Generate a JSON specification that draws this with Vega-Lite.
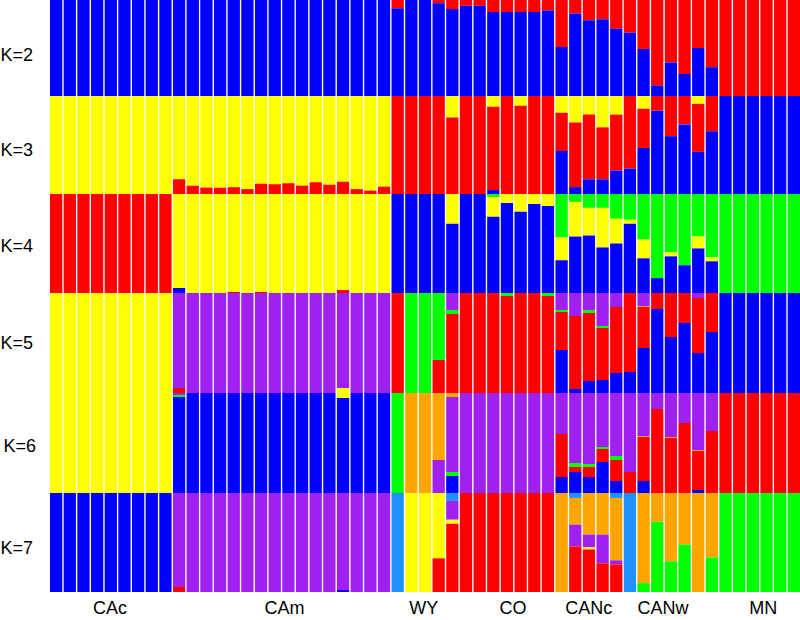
{
"$schema": "https://vega.github.io/schema/vega-lite/v6.json",
"background": "white",
"padding": 0,
"spacing": 0,
"config": {"view": {"stroke": null}, "concat": {"spacing": 0}},
"data": {"values": [
{"k":2,"i":0,"c":"b","q":1,"s":1},{"k":2,"i":1,"c":"b","q":1,"s":1},{"k":2,"i":2,"c":"b","q":1,"s":1},{"k":2,"i":3,"c":"b","q":1,"s":1},{"k":2,"i":4,"c":"b","q":1,"s":1},{"k":2,"i":5,"c":"b","q":1,"s":1},{"k":2,"i":6,"c":"b","q":1,"s":1},{"k":2,"i":7,"c":"b","q":1,"s":1},{"k":2,"i":8,"c":"b","q":1,"s":1},{"k":2,"i":9,"c":"b","q":1,"s":1},{"k":2,"i":10,"c":"b","q":1,"s":1},{"k":2,"i":11,"c":"b","q":1,"s":1},{"k":2,"i":12,"c":"b","q":1,"s":1},{"k":2,"i":13,"c":"b","q":1,"s":1},{"k":2,"i":14,"c":"b","q":1,"s":1},{"k":2,"i":15,"c":"b","q":1,"s":1},{"k":2,"i":16,"c":"b","q":1,"s":1},{"k":2,"i":17,"c":"b","q":1,"s":1},{"k":2,"i":18,"c":"b","q":1,"s":1},{"k":2,"i":19,"c":"b","q":1,"s":1},{"k":2,"i":20,"c":"b","q":1,"s":1},{"k":2,"i":21,"c":"b","q":1,"s":1},{"k":2,"i":22,"c":"b","q":1,"s":1},{"k":2,"i":23,"c":"b","q":1,"s":1},{"k":2,"i":24,"c":"b","q":1,"s":1},
{"k":2,"i":25,"c":"r","q":0.085,"s":1},{"k":2,"i":25,"c":"b","q":0.915,"s":2},
{"k":2,"i":26,"c":"b","q":1,"s":1},{"k":2,"i":27,"c":"b","q":1,"s":1},
{"k":2,"i":28,"c":"r","q":0.035,"s":1},{"k":2,"i":28,"c":"b","q":0.965,"s":2},
{"k":2,"i":29,"c":"r","q":0.095,"s":1},{"k":2,"i":29,"c":"b","q":0.905,"s":2},
{"k":2,"i":30,"c":"r","q":0.06,"s":1},{"k":2,"i":30,"c":"b","q":0.94,"s":2},
{"k":2,"i":31,"c":"r","q":0.06,"s":1},{"k":2,"i":31,"c":"b","q":0.94,"s":2},
{"k":2,"i":32,"c":"r","q":0.125,"s":1},{"k":2,"i":32,"c":"b","q":0.875,"s":2},
{"k":2,"i":33,"c":"r","q":0.125,"s":1},{"k":2,"i":33,"c":"b","q":0.875,"s":2},
{"k":2,"i":34,"c":"r","q":0.125,"s":1},{"k":2,"i":34,"c":"b","q":0.875,"s":2},
{"k":2,"i":35,"c":"r","q":0.125,"s":1},{"k":2,"i":35,"c":"b","q":0.875,"s":2},
{"k":2,"i":36,"c":"r","q":0.11,"s":1},{"k":2,"i":36,"c":"b","q":0.89,"s":2},
{"k":2,"i":37,"c":"r","q":0.49,"s":1},{"k":2,"i":37,"c":"b","q":0.51,"s":2},
{"k":2,"i":38,"c":"r","q":0.14,"s":1},{"k":2,"i":38,"c":"b","q":0.86,"s":2},
{"k":2,"i":39,"c":"r","q":0.21,"s":1},{"k":2,"i":39,"c":"b","q":0.79,"s":2},
{"k":2,"i":40,"c":"r","q":0.2,"s":1},{"k":2,"i":40,"c":"b","q":0.8,"s":2},
{"k":2,"i":41,"c":"r","q":0.3,"s":1},{"k":2,"i":41,"c":"b","q":0.7,"s":2},
{"k":2,"i":42,"c":"r","q":0.34,"s":1},{"k":2,"i":42,"c":"b","q":0.66,"s":2},
{"k":2,"i":43,"c":"r","q":0.51,"s":1},{"k":2,"i":43,"c":"b","q":0.49,"s":2},
{"k":2,"i":44,"c":"r","q":0.89,"s":1},{"k":2,"i":44,"c":"b","q":0.11,"s":2},
{"k":2,"i":45,"c":"r","q":0.65,"s":1},{"k":2,"i":45,"c":"b","q":0.35,"s":2},
{"k":2,"i":46,"c":"r","q":0.77,"s":1},{"k":2,"i":46,"c":"b","q":0.23,"s":2},
{"k":2,"i":47,"c":"r","q":0.5,"s":1},{"k":2,"i":47,"c":"b","q":0.5,"s":2},
{"k":2,"i":48,"c":"r","q":0.7,"s":1},{"k":2,"i":48,"c":"b","q":0.3,"s":2},
{"k":2,"i":49,"c":"r","q":1,"s":1},{"k":2,"i":50,"c":"r","q":1,"s":1},{"k":2,"i":51,"c":"r","q":1,"s":1},{"k":2,"i":52,"c":"r","q":1,"s":1},{"k":2,"i":53,"c":"r","q":1,"s":1},{"k":2,"i":54,"c":"r","q":1,"s":1},

{"k":3,"i":0,"c":"y","q":1,"s":1},{"k":3,"i":1,"c":"y","q":1,"s":1},{"k":3,"i":2,"c":"y","q":1,"s":1},{"k":3,"i":3,"c":"y","q":1,"s":1},{"k":3,"i":4,"c":"y","q":1,"s":1},{"k":3,"i":5,"c":"y","q":1,"s":1},{"k":3,"i":6,"c":"y","q":1,"s":1},{"k":3,"i":7,"c":"y","q":1,"s":1},{"k":3,"i":8,"c":"y","q":1,"s":1},
{"k":3,"i":9,"c":"y","q":0.85,"s":1},{"k":3,"i":9,"c":"r","q":0.15,"s":2},
{"k":3,"i":10,"c":"y","q":0.915,"s":1},{"k":3,"i":10,"c":"r","q":0.085,"s":2},
{"k":3,"i":11,"c":"y","q":0.935,"s":1},{"k":3,"i":11,"c":"r","q":0.065,"s":2},
{"k":3,"i":12,"c":"y","q":0.935,"s":1},{"k":3,"i":12,"c":"r","q":0.065,"s":2},
{"k":3,"i":13,"c":"y","q":0.93,"s":1},{"k":3,"i":13,"c":"r","q":0.07,"s":2},
{"k":3,"i":14,"c":"y","q":0.95,"s":1},{"k":3,"i":14,"c":"r","q":0.05,"s":2},
{"k":3,"i":15,"c":"y","q":0.895,"s":1},{"k":3,"i":15,"c":"r","q":0.105,"s":2},
{"k":3,"i":16,"c":"y","q":0.9,"s":1},{"k":3,"i":16,"c":"r","q":0.1,"s":2},
{"k":3,"i":17,"c":"y","q":0.89,"s":1},{"k":3,"i":17,"c":"r","q":0.11,"s":2},
{"k":3,"i":18,"c":"y","q":0.915,"s":1},{"k":3,"i":18,"c":"r","q":0.085,"s":2},
{"k":3,"i":19,"c":"y","q":0.88,"s":1},{"k":3,"i":19,"c":"r","q":0.12,"s":2},
{"k":3,"i":20,"c":"y","q":0.905,"s":1},{"k":3,"i":20,"c":"r","q":0.095,"s":2},
{"k":3,"i":21,"c":"y","q":0.875,"s":1},{"k":3,"i":21,"c":"r","q":0.125,"s":2},
{"k":3,"i":22,"c":"y","q":0.95,"s":1},{"k":3,"i":22,"c":"r","q":0.05,"s":2},
{"k":3,"i":23,"c":"y","q":0.965,"s":1},{"k":3,"i":23,"c":"r","q":0.035,"s":2},
{"k":3,"i":24,"c":"y","q":0.925,"s":1},{"k":3,"i":24,"c":"r","q":0.075,"s":2},
{"k":3,"i":25,"c":"r","q":1,"s":1},{"k":3,"i":26,"c":"r","q":1,"s":1},{"k":3,"i":27,"c":"r","q":1,"s":1},{"k":3,"i":28,"c":"r","q":1,"s":1},
{"k":3,"i":29,"c":"y","q":0.22,"s":1},{"k":3,"i":29,"c":"r","q":0.78,"s":2},
{"k":3,"i":30,"c":"r","q":1,"s":1},{"k":3,"i":31,"c":"r","q":1,"s":1},
{"k":3,"i":32,"c":"y","q":0.11,"s":1},{"k":3,"i":32,"c":"r","q":0.85,"s":2},{"k":3,"i":32,"c":"b","q":0.04,"s":3},
{"k":3,"i":33,"c":"r","q":1,"s":1},
{"k":3,"i":34,"c":"y","q":0.1,"s":1},{"k":3,"i":34,"c":"r","q":0.9,"s":2},
{"k":3,"i":35,"c":"r","q":1,"s":1},{"k":3,"i":36,"c":"r","q":1,"s":1},
{"k":3,"i":37,"c":"y","q":0.17,"s":1},{"k":3,"i":37,"c":"r","q":0.39,"s":2},{"k":3,"i":37,"c":"b","q":0.44,"s":3},
{"k":3,"i":38,"c":"y","q":0.27,"s":1},{"k":3,"i":38,"c":"r","q":0.66,"s":2},{"k":3,"i":38,"c":"b","q":0.07,"s":3},
{"k":3,"i":39,"c":"y","q":0.19,"s":1},{"k":3,"i":39,"c":"r","q":0.66,"s":2},{"k":3,"i":39,"c":"b","q":0.15,"s":3},
{"k":3,"i":40,"c":"y","q":0.32,"s":1},{"k":3,"i":40,"c":"r","q":0.53,"s":2},{"k":3,"i":40,"c":"b","q":0.15,"s":3},
{"k":3,"i":41,"c":"y","q":0.19,"s":1},{"k":3,"i":41,"c":"r","q":0.57,"s":2},{"k":3,"i":41,"c":"b","q":0.24,"s":3},
{"k":3,"i":42,"c":"r","q":0.74,"s":1},{"k":3,"i":42,"c":"b","q":0.26,"s":2},
{"k":3,"i":43,"c":"y","q":0.13,"s":1},{"k":3,"i":43,"c":"r","q":0.4,"s":2},{"k":3,"i":43,"c":"b","q":0.47,"s":3},
{"k":3,"i":44,"c":"r","q":0.15,"s":1},{"k":3,"i":44,"c":"b","q":0.85,"s":2},
{"k":3,"i":45,"c":"r","q":0.41,"s":1},{"k":3,"i":45,"c":"b","q":0.59,"s":2},
{"k":3,"i":46,"c":"r","q":0.29,"s":1},{"k":3,"i":46,"c":"b","q":0.71,"s":2},
{"k":3,"i":47,"c":"y","q":0.08,"s":1},{"k":3,"i":47,"c":"r","q":0.49,"s":2},{"k":3,"i":47,"c":"b","q":0.43,"s":3},
{"k":3,"i":48,"c":"r","q":0.36,"s":1},{"k":3,"i":48,"c":"b","q":0.64,"s":2},
{"k":3,"i":49,"c":"b","q":1,"s":1},{"k":3,"i":50,"c":"b","q":1,"s":1},{"k":3,"i":51,"c":"b","q":1,"s":1},{"k":3,"i":52,"c":"b","q":1,"s":1},{"k":3,"i":53,"c":"b","q":1,"s":1},{"k":3,"i":54,"c":"b","q":1,"s":1},

{"k":4,"i":0,"c":"r","q":1,"s":1},{"k":4,"i":1,"c":"r","q":1,"s":1},{"k":4,"i":2,"c":"r","q":1,"s":1},{"k":4,"i":3,"c":"r","q":1,"s":1},{"k":4,"i":4,"c":"r","q":1,"s":1},{"k":4,"i":5,"c":"r","q":1,"s":1},{"k":4,"i":6,"c":"r","q":1,"s":1},{"k":4,"i":7,"c":"r","q":1,"s":1},{"k":4,"i":8,"c":"r","q":1,"s":1},
{"k":4,"i":9,"c":"y","q":0.95,"s":1},{"k":4,"i":9,"c":"b","q":0.05,"s":2},
{"k":4,"i":10,"c":"y","q":1,"s":1},{"k":4,"i":11,"c":"y","q":1,"s":1},{"k":4,"i":12,"c":"y","q":1,"s":1},
{"k":4,"i":13,"c":"y","q":0.99,"s":1},{"k":4,"i":13,"c":"r","q":0.01,"s":2},
{"k":4,"i":14,"c":"y","q":1,"s":1},
{"k":4,"i":15,"c":"y","q":0.99,"s":1},{"k":4,"i":15,"c":"r","q":0.01,"s":2},
{"k":4,"i":16,"c":"y","q":1,"s":1},{"k":4,"i":17,"c":"y","q":1,"s":1},{"k":4,"i":18,"c":"y","q":1,"s":1},{"k":4,"i":19,"c":"y","q":1,"s":1},{"k":4,"i":20,"c":"y","q":1,"s":1},
{"k":4,"i":21,"c":"y","q":0.97,"s":1},{"k":4,"i":21,"c":"r","q":0.03,"s":2},
{"k":4,"i":22,"c":"y","q":1,"s":1},{"k":4,"i":23,"c":"y","q":1,"s":1},{"k":4,"i":24,"c":"y","q":1,"s":1},
{"k":4,"i":25,"c":"b","q":1,"s":1},{"k":4,"i":26,"c":"b","q":1,"s":1},{"k":4,"i":27,"c":"b","q":1,"s":1},{"k":4,"i":28,"c":"b","q":1,"s":1},
{"k":4,"i":29,"c":"y","q":0.3,"s":1},{"k":4,"i":29,"c":"b","q":0.7,"s":2},
{"k":4,"i":30,"c":"b","q":1,"s":1},{"k":4,"i":31,"c":"b","q":1,"s":1},
{"k":4,"i":32,"c":"g","q":0.03,"s":1},{"k":4,"i":32,"c":"y","q":0.2,"s":2},{"k":4,"i":32,"c":"b","q":0.77,"s":3},
{"k":4,"i":33,"c":"y","q":0.09,"s":1},{"k":4,"i":33,"c":"b","q":0.91,"s":2},
{"k":4,"i":34,"c":"y","q":0.18,"s":1},{"k":4,"i":34,"c":"b","q":0.82,"s":2},
{"k":4,"i":35,"c":"y","q":0.1,"s":1},{"k":4,"i":35,"c":"b","q":0.9,"s":2},
{"k":4,"i":36,"c":"y","q":0.12,"s":1},{"k":4,"i":36,"c":"b","q":0.88,"s":2},
{"k":4,"i":37,"c":"g","q":0.44,"s":1},{"k":4,"i":37,"c":"y","q":0.23,"s":2},{"k":4,"i":37,"c":"b","q":0.33,"s":3},
{"k":4,"i":38,"c":"g","q":0.08,"s":1},{"k":4,"i":38,"c":"y","q":0.35,"s":2},{"k":4,"i":38,"c":"b","q":0.57,"s":3},
{"k":4,"i":39,"c":"g","q":0.14,"s":1},{"k":4,"i":39,"c":"y","q":0.28,"s":2},{"k":4,"i":39,"c":"b","q":0.58,"s":3},
{"k":4,"i":40,"c":"g","q":0.14,"s":1},{"k":4,"i":40,"c":"y","q":0.4,"s":2},{"k":4,"i":40,"c":"b","q":0.46,"s":3},
{"k":4,"i":41,"c":"g","q":0.25,"s":1},{"k":4,"i":41,"c":"y","q":0.25,"s":2},{"k":4,"i":41,"c":"b","q":0.5,"s":3},
{"k":4,"i":42,"c":"g","q":0.26,"s":1},{"k":4,"i":42,"c":"y","q":0.04,"s":2},{"k":4,"i":42,"c":"b","q":0.7,"s":3},
{"k":4,"i":43,"c":"g","q":0.46,"s":1},{"k":4,"i":43,"c":"y","q":0.19,"s":2},{"k":4,"i":43,"c":"b","q":0.35,"s":3},
{"k":4,"i":44,"c":"g","q":0.85,"s":1},{"k":4,"i":44,"c":"b","q":0.15,"s":2},
{"k":4,"i":45,"c":"g","q":0.59,"s":1},{"k":4,"i":45,"c":"y","q":0.04,"s":2},{"k":4,"i":45,"c":"b","q":0.37,"s":3},
{"k":4,"i":46,"c":"g","q":0.72,"s":1},{"k":4,"i":46,"c":"b","q":0.28,"s":2},
{"k":4,"i":47,"c":"g","q":0.43,"s":1},{"k":4,"i":47,"c":"y","q":0.12,"s":2},{"k":4,"i":47,"c":"b","q":0.45,"s":3},
{"k":4,"i":48,"c":"g","q":0.64,"s":1},{"k":4,"i":48,"c":"y","q":0.04,"s":2},{"k":4,"i":48,"c":"b","q":0.32,"s":3},
{"k":4,"i":49,"c":"g","q":1,"s":1},{"k":4,"i":50,"c":"g","q":1,"s":1},{"k":4,"i":51,"c":"g","q":1,"s":1},{"k":4,"i":52,"c":"g","q":1,"s":1},{"k":4,"i":53,"c":"g","q":1,"s":1},{"k":4,"i":54,"c":"g","q":1,"s":1},

{"k":5,"i":0,"c":"y","q":1,"s":1},{"k":5,"i":1,"c":"y","q":1,"s":1},{"k":5,"i":2,"c":"y","q":1,"s":1},{"k":5,"i":3,"c":"y","q":1,"s":1},{"k":5,"i":4,"c":"y","q":1,"s":1},{"k":5,"i":5,"c":"y","q":1,"s":1},{"k":5,"i":6,"c":"y","q":1,"s":1},{"k":5,"i":7,"c":"y","q":1,"s":1},{"k":5,"i":8,"c":"y","q":1,"s":1},
{"k":5,"i":9,"c":"p","q":0.95,"s":1},{"k":5,"i":9,"c":"r","q":0.05,"s":2},
{"k":5,"i":10,"c":"p","q":1,"s":1},{"k":5,"i":11,"c":"p","q":1,"s":1},{"k":5,"i":12,"c":"p","q":1,"s":1},{"k":5,"i":13,"c":"p","q":1,"s":1},{"k":5,"i":14,"c":"p","q":1,"s":1},{"k":5,"i":15,"c":"p","q":1,"s":1},{"k":5,"i":16,"c":"p","q":1,"s":1},{"k":5,"i":17,"c":"p","q":1,"s":1},{"k":5,"i":18,"c":"p","q":1,"s":1},{"k":5,"i":19,"c":"p","q":1,"s":1},{"k":5,"i":20,"c":"p","q":1,"s":1},
{"k":5,"i":21,"c":"p","q":0.95,"s":1},{"k":5,"i":21,"c":"y","q":0.05,"s":2},
{"k":5,"i":22,"c":"p","q":1,"s":1},{"k":5,"i":23,"c":"p","q":1,"s":1},{"k":5,"i":24,"c":"p","q":1,"s":1},
{"k":5,"i":25,"c":"r","q":1,"s":1},
{"k":5,"i":26,"c":"g","q":1,"s":1},{"k":5,"i":27,"c":"g","q":1,"s":1},
{"k":5,"i":28,"c":"g","q":0.67,"s":1},{"k":5,"i":28,"c":"r","q":0.33,"s":2},
{"k":5,"i":29,"c":"p","q":0.17,"s":1},{"k":5,"i":29,"c":"g","q":0.04,"s":2},{"k":5,"i":29,"c":"r","q":0.79,"s":3},
{"k":5,"i":30,"c":"r","q":1,"s":1},{"k":5,"i":31,"c":"r","q":1,"s":1},{"k":5,"i":32,"c":"r","q":1,"s":1},
{"k":5,"i":33,"c":"g","q":0.03,"s":1},{"k":5,"i":33,"c":"r","q":0.97,"s":2},
{"k":5,"i":34,"c":"r","q":1,"s":1},{"k":5,"i":35,"c":"r","q":1,"s":1},
{"k":5,"i":36,"c":"g","q":0.03,"s":1},{"k":5,"i":36,"c":"r","q":0.97,"s":2},
{"k":5,"i":37,"c":"p","q":0.17,"s":1},{"k":5,"i":37,"c":"g","q":0.02,"s":2},{"k":5,"i":37,"c":"r","q":0.38,"s":3},{"k":5,"i":37,"c":"b","q":0.43,"s":4},
{"k":5,"i":38,"c":"p","q":0.23,"s":1},{"k":5,"i":38,"c":"r","q":0.73,"s":2},{"k":5,"i":38,"c":"b","q":0.04,"s":3},
{"k":5,"i":39,"c":"p","q":0.17,"s":1},{"k":5,"i":39,"c":"g","q":0.03,"s":2},{"k":5,"i":39,"c":"r","q":0.68,"s":3},{"k":5,"i":39,"c":"b","q":0.12,"s":4},
{"k":5,"i":40,"c":"p","q":0.33,"s":1},{"k":5,"i":40,"c":"g","q":0.02,"s":2},{"k":5,"i":40,"c":"r","q":0.52,"s":3},{"k":5,"i":40,"c":"b","q":0.13,"s":4},
{"k":5,"i":41,"c":"p","q":0.14,"s":1},{"k":5,"i":41,"c":"r","q":0.66,"s":2},{"k":5,"i":41,"c":"b","q":0.2,"s":3},
{"k":5,"i":42,"c":"r","q":0.79,"s":1},{"k":5,"i":42,"c":"b","q":0.21,"s":2},
{"k":5,"i":43,"c":"p","q":0.13,"s":1},{"k":5,"i":43,"c":"o","q":0.01,"s":2},{"k":5,"i":43,"c":"r","q":0.41,"s":3},{"k":5,"i":43,"c":"b","q":0.45,"s":4},
{"k":5,"i":44,"c":"r","q":0.16,"s":1},{"k":5,"i":44,"c":"b","q":0.84,"s":2},
{"k":5,"i":45,"c":"r","q":0.44,"s":1},{"k":5,"i":45,"c":"b","q":0.56,"s":2},
{"k":5,"i":46,"c":"r","q":0.3,"s":1},{"k":5,"i":46,"c":"b","q":0.7,"s":2},
{"k":5,"i":47,"c":"p","q":0.05,"s":1},{"k":5,"i":47,"c":"r","q":0.55,"s":2},{"k":5,"i":47,"c":"b","q":0.4,"s":3},
{"k":5,"i":48,"c":"r","q":0.39,"s":1},{"k":5,"i":48,"c":"b","q":0.61,"s":2},
{"k":5,"i":49,"c":"b","q":1,"s":1},{"k":5,"i":50,"c":"b","q":1,"s":1},{"k":5,"i":51,"c":"b","q":1,"s":1},{"k":5,"i":52,"c":"b","q":1,"s":1},{"k":5,"i":53,"c":"b","q":1,"s":1},{"k":5,"i":54,"c":"b","q":1,"s":1},

{"k":6,"i":0,"c":"y","q":1,"s":1},{"k":6,"i":1,"c":"y","q":1,"s":1},{"k":6,"i":2,"c":"y","q":1,"s":1},{"k":6,"i":3,"c":"y","q":1,"s":1},{"k":6,"i":4,"c":"y","q":1,"s":1},{"k":6,"i":5,"c":"y","q":1,"s":1},{"k":6,"i":6,"c":"y","q":1,"s":1},{"k":6,"i":7,"c":"y","q":1,"s":1},{"k":6,"i":8,"c":"y","q":1,"s":1},
{"k":6,"i":9,"c":"p","q":0.02,"s":1},{"k":6,"i":9,"c":"g","q":0.02,"s":2},{"k":6,"i":9,"c":"b","q":0.96,"s":3},
{"k":6,"i":10,"c":"b","q":1,"s":1},{"k":6,"i":11,"c":"b","q":1,"s":1},{"k":6,"i":12,"c":"b","q":1,"s":1},{"k":6,"i":13,"c":"b","q":1,"s":1},{"k":6,"i":14,"c":"b","q":1,"s":1},{"k":6,"i":15,"c":"b","q":1,"s":1},{"k":6,"i":16,"c":"b","q":1,"s":1},{"k":6,"i":17,"c":"b","q":1,"s":1},{"k":6,"i":18,"c":"b","q":1,"s":1},{"k":6,"i":19,"c":"b","q":1,"s":1},{"k":6,"i":20,"c":"b","q":1,"s":1},
{"k":6,"i":21,"c":"y","q":0.05,"s":1},{"k":6,"i":21,"c":"b","q":0.95,"s":2},
{"k":6,"i":22,"c":"b","q":1,"s":1},{"k":6,"i":23,"c":"b","q":1,"s":1},{"k":6,"i":24,"c":"b","q":1,"s":1},
{"k":6,"i":25,"c":"g","q":1,"s":1},
{"k":6,"i":26,"c":"o","q":1,"s":1},{"k":6,"i":27,"c":"o","q":1,"s":1},
{"k":6,"i":28,"c":"o","q":0.67,"s":1},{"k":6,"i":28,"c":"p","q":0.33,"s":2},
{"k":6,"i":29,"c":"o","q":0.04,"s":1},{"k":6,"i":29,"c":"p","q":0.75,"s":2},{"k":6,"i":29,"c":"g","q":0.04,"s":3},{"k":6,"i":29,"c":"b","q":0.17,"s":4},
{"k":6,"i":30,"c":"p","q":1,"s":1},{"k":6,"i":31,"c":"p","q":1,"s":1},{"k":6,"i":32,"c":"p","q":1,"s":1},{"k":6,"i":33,"c":"p","q":1,"s":1},{"k":6,"i":34,"c":"p","q":1,"s":1},{"k":6,"i":35,"c":"p","q":1,"s":1},{"k":6,"i":36,"c":"p","q":1,"s":1},
{"k":6,"i":37,"c":"p","q":0.41,"s":1},{"k":6,"i":37,"c":"r","q":0.43,"s":2},{"k":6,"i":37,"c":"b","q":0.16,"s":3},
{"k":6,"i":38,"c":"p","q":0.7,"s":1},{"k":6,"i":38,"c":"g","q":0.04,"s":2},{"k":6,"i":38,"c":"r","q":0.05,"s":3},{"k":6,"i":38,"c":"b","q":0.21,"s":4},
{"k":6,"i":39,"c":"p","q":0.71,"s":1},{"k":6,"i":39,"c":"g","q":0.03,"s":2},{"k":6,"i":39,"c":"r","q":0.1,"s":3},{"k":6,"i":39,"c":"b","q":0.16,"s":4},
{"k":6,"i":40,"c":"p","q":0.54,"s":1},{"k":6,"i":40,"c":"g","q":0.02,"s":2},{"k":6,"i":40,"c":"r","q":0.13,"s":3},{"k":6,"i":40,"c":"b","q":0.31,"s":4},
{"k":6,"i":41,"c":"p","q":0.63,"s":1},{"k":6,"i":41,"c":"g","q":0.04,"s":2},{"k":6,"i":41,"c":"r","q":0.21,"s":3},{"k":6,"i":41,"c":"b","q":0.12,"s":4},
{"k":6,"i":42,"c":"p","q":0.79,"s":1},{"k":6,"i":42,"c":"r","q":0.21,"s":2},
{"k":6,"i":43,"c":"p","q":0.43,"s":1},{"k":6,"i":43,"c":"o","q":0.01,"s":2},{"k":6,"i":43,"c":"r","q":0.44,"s":3},{"k":6,"i":43,"c":"b","q":0.12,"s":4},
{"k":6,"i":44,"c":"p","q":0.16,"s":1},{"k":6,"i":44,"c":"r","q":0.84,"s":2},
{"k":6,"i":45,"c":"p","q":0.44,"s":1},{"k":6,"i":45,"c":"o","q":0.01,"s":2},{"k":6,"i":45,"c":"r","q":0.55,"s":3},
{"k":6,"i":46,"c":"p","q":0.3,"s":1},{"k":6,"i":46,"c":"r","q":0.7,"s":2},
{"k":6,"i":47,"c":"p","q":0.57,"s":1},{"k":6,"i":47,"c":"o","q":0.01,"s":2},{"k":6,"i":47,"c":"r","q":0.39,"s":3},{"k":6,"i":47,"c":"b","q":0.03,"s":4},
{"k":6,"i":48,"c":"p","q":0.38,"s":1},{"k":6,"i":48,"c":"r","q":0.62,"s":2},
{"k":6,"i":49,"c":"r","q":1,"s":1},{"k":6,"i":50,"c":"r","q":1,"s":1},{"k":6,"i":51,"c":"r","q":1,"s":1},{"k":6,"i":52,"c":"r","q":1,"s":1},{"k":6,"i":53,"c":"r","q":1,"s":1},{"k":6,"i":54,"c":"r","q":1,"s":1},

{"k":7,"i":0,"c":"b","q":1,"s":1},{"k":7,"i":1,"c":"b","q":1,"s":1},{"k":7,"i":2,"c":"b","q":1,"s":1},{"k":7,"i":3,"c":"b","q":1,"s":1},{"k":7,"i":4,"c":"b","q":1,"s":1},{"k":7,"i":5,"c":"b","q":1,"s":1},{"k":7,"i":6,"c":"b","q":1,"s":1},{"k":7,"i":7,"c":"b","q":1,"s":1},{"k":7,"i":8,"c":"b","q":1,"s":1},
{"k":7,"i":9,"c":"p","q":0.95,"s":1},{"k":7,"i":9,"c":"r","q":0.05,"s":2},
{"k":7,"i":10,"c":"p","q":1,"s":1},{"k":7,"i":11,"c":"p","q":1,"s":1},{"k":7,"i":12,"c":"p","q":1,"s":1},{"k":7,"i":13,"c":"p","q":1,"s":1},{"k":7,"i":14,"c":"p","q":1,"s":1},{"k":7,"i":15,"c":"p","q":1,"s":1},{"k":7,"i":16,"c":"p","q":1,"s":1},{"k":7,"i":17,"c":"p","q":1,"s":1},{"k":7,"i":18,"c":"p","q":1,"s":1},{"k":7,"i":19,"c":"p","q":1,"s":1},{"k":7,"i":20,"c":"p","q":1,"s":1},
{"k":7,"i":21,"c":"p","q":0.98,"s":1},{"k":7,"i":21,"c":"b","q":0.02,"s":2},
{"k":7,"i":22,"c":"p","q":1,"s":1},{"k":7,"i":23,"c":"p","q":1,"s":1},{"k":7,"i":24,"c":"p","q":1,"s":1},
{"k":7,"i":25,"c":"d","q":1,"s":1},
{"k":7,"i":26,"c":"y","q":1,"s":1},{"k":7,"i":27,"c":"y","q":1,"s":1},
{"k":7,"i":28,"c":"y","q":0.66,"s":1},{"k":7,"i":28,"c":"r","q":0.34,"s":2},
{"k":7,"i":29,"c":"d","q":0.08,"s":1},{"k":7,"i":29,"c":"p","q":0.19,"s":2},{"k":7,"i":29,"c":"y","q":0.04,"s":3},{"k":7,"i":29,"c":"r","q":0.69,"s":4},
{"k":7,"i":30,"c":"r","q":1,"s":1},{"k":7,"i":31,"c":"r","q":1,"s":1},{"k":7,"i":32,"c":"r","q":1,"s":1},{"k":7,"i":33,"c":"r","q":1,"s":1},{"k":7,"i":34,"c":"r","q":1,"s":1},{"k":7,"i":35,"c":"r","q":1,"s":1},{"k":7,"i":36,"c":"r","q":1,"s":1},
{"k":7,"i":37,"c":"o","q":1,"s":1},
{"k":7,"i":38,"c":"d","q":0.05,"s":1},{"k":7,"i":38,"c":"o","q":0.27,"s":2},{"k":7,"i":38,"c":"p","q":0.22,"s":3},{"k":7,"i":38,"c":"r","q":0.46,"s":4},
{"k":7,"i":39,"c":"o","q":0.42,"s":1},{"k":7,"i":39,"c":"p","q":0.13,"s":2},{"k":7,"i":39,"c":"y","q":0.02,"s":3},{"k":7,"i":39,"c":"r","q":0.43,"s":4},
{"k":7,"i":40,"c":"o","q":0.42,"s":1},{"k":7,"i":40,"c":"p","q":0.29,"s":2},{"k":7,"i":40,"c":"r","q":0.29,"s":3},
{"k":7,"i":41,"c":"d","q":0.05,"s":1},{"k":7,"i":41,"c":"o","q":0.63,"s":2},{"k":7,"i":41,"c":"p","q":0.04,"s":3},{"k":7,"i":41,"c":"r","q":0.28,"s":4},
{"k":7,"i":42,"c":"d","q":1,"s":1},
{"k":7,"i":43,"c":"o","q":0.91,"s":1},{"k":7,"i":43,"c":"g","q":0.09,"s":2},
{"k":7,"i":44,"c":"o","q":0.29,"s":1},{"k":7,"i":44,"c":"g","q":0.71,"s":2},
{"k":7,"i":45,"c":"o","q":0.69,"s":1},{"k":7,"i":45,"c":"g","q":0.31,"s":2},
{"k":7,"i":46,"c":"o","q":0.52,"s":1},{"k":7,"i":46,"c":"g","q":0.48,"s":2},
{"k":7,"i":47,"c":"o","q":1,"s":1},
{"k":7,"i":48,"c":"o","q":0.65,"s":1},{"k":7,"i":48,"c":"g","q":0.35,"s":2},
{"k":7,"i":49,"c":"g","q":1,"s":1},{"k":7,"i":50,"c":"g","q":1,"s":1},{"k":7,"i":51,"c":"g","q":1,"s":1},{"k":7,"i":52,"c":"g","q":1,"s":1},{"k":7,"i":53,"c":"g","q":1,"s":1},{"k":7,"i":54,"c":"g","q":1,"s":1}
]},
"vconcat": [
{"width": 750, "height": 96, "transform": [{"filter": "datum.k == 2"}], "mark": {"type": "bar"},
 "encoding": {
  "x": {"field": "i", "type": "ordinal", "axis": null, "scale": {"paddingInner": 0.1, "paddingOuter": 0}},
  "y": {"field": "q", "type": "quantitative", "stack": "normalize", "scale": {"domain": [0, 1], "nice": false}, "axis": {"title": "K=2", "titleAngle": 0, "titleX": -50, "titleY": 55, "titleAlign": "left", "titleBaseline": "middle", "titleFont": "Liberation Sans", "titleFontSize": 18, "titleFontWeight": "normal", "titleColor": "black", "domain": false, "ticks": false, "labels": false, "grid": false}},
  "color": {"field": "c", "type": "nominal", "legend": null, "scale": {"domain": ["b","r","y","g","p","o","d"], "range": ["#0000FF","#FF0000","#FFFF00","#00FF00","#A020F0","#FFA500","#1E90FF"]}},
  "order": {"field": "s", "sort": "descending"}}},
{"width": 750, "height": 98, "transform": [{"filter": "datum.k == 3"}], "mark": {"type": "bar"},
 "encoding": {
  "x": {"field": "i", "type": "ordinal", "axis": null, "scale": {"paddingInner": 0.1, "paddingOuter": 0}},
  "y": {"field": "q", "type": "quantitative", "stack": "normalize", "scale": {"domain": [0, 1], "nice": false}, "axis": {"title": "K=3", "titleAngle": 0, "titleX": -50, "titleY": 54, "titleAlign": "left", "titleBaseline": "middle", "titleFont": "Liberation Sans", "titleFontSize": 18, "titleFontWeight": "normal", "titleColor": "black", "domain": false, "ticks": false, "labels": false, "grid": false}},
  "color": {"field": "c", "type": "nominal", "legend": null, "scale": {"domain": ["b","r","y","g","p","o","d"], "range": ["#0000FF","#FF0000","#FFFF00","#00FF00","#A020F0","#FFA500","#1E90FF"]}},
  "order": {"field": "s", "sort": "descending"}}},
{"width": 750, "height": 99, "transform": [{"filter": "datum.k == 4"}], "mark": {"type": "bar"},
 "encoding": {
  "x": {"field": "i", "type": "ordinal", "axis": null, "scale": {"paddingInner": 0.1, "paddingOuter": 0}},
  "y": {"field": "q", "type": "quantitative", "stack": "normalize", "scale": {"domain": [0, 1], "nice": false}, "axis": {"title": "K=4", "titleAngle": 0, "titleX": -50, "titleY": 52, "titleAlign": "left", "titleBaseline": "middle", "titleFont": "Liberation Sans", "titleFontSize": 18, "titleFontWeight": "normal", "titleColor": "black", "domain": false, "ticks": false, "labels": false, "grid": false}},
  "color": {"field": "c", "type": "nominal", "legend": null, "scale": {"domain": ["b","r","y","g","p","o","d"], "range": ["#0000FF","#FF0000","#FFFF00","#00FF00","#A020F0","#FFA500","#1E90FF"]}},
  "order": {"field": "s", "sort": "descending"}}},
{"width": 750, "height": 100, "transform": [{"filter": "datum.k == 5"}], "mark": {"type": "bar"},
 "encoding": {
  "x": {"field": "i", "type": "ordinal", "axis": null, "scale": {"paddingInner": 0.1, "paddingOuter": 0}},
  "y": {"field": "q", "type": "quantitative", "stack": "normalize", "scale": {"domain": [0, 1], "nice": false}, "axis": {"title": "K=5", "titleAngle": 0, "titleX": -50, "titleY": 50, "titleAlign": "left", "titleBaseline": "middle", "titleFont": "Liberation Sans", "titleFontSize": 18, "titleFontWeight": "normal", "titleColor": "black", "domain": false, "ticks": false, "labels": false, "grid": false}},
  "color": {"field": "c", "type": "nominal", "legend": null, "scale": {"domain": ["b","r","y","g","p","o","d"], "range": ["#0000FF","#FF0000","#FFFF00","#00FF00","#A020F0","#FFA500","#1E90FF"]}},
  "order": {"field": "s", "sort": "descending"}}},
{"width": 750, "height": 100, "transform": [{"filter": "datum.k == 6"}], "mark": {"type": "bar"},
 "encoding": {
  "x": {"field": "i", "type": "ordinal", "axis": null, "scale": {"paddingInner": 0.1, "paddingOuter": 0}},
  "y": {"field": "q", "type": "quantitative", "stack": "normalize", "scale": {"domain": [0, 1], "nice": false}, "axis": {"title": "K=6", "titleAngle": 0, "titleX": -47, "titleY": 53, "titleAlign": "left", "titleBaseline": "middle", "titleFont": "Liberation Sans", "titleFontSize": 18, "titleFontWeight": "normal", "titleColor": "black", "domain": false, "ticks": false, "labels": false, "grid": false}},
  "color": {"field": "c", "type": "nominal", "legend": null, "scale": {"domain": ["b","r","y","g","p","o","d"], "range": ["#0000FF","#FF0000","#FFFF00","#00FF00","#A020F0","#FFA500","#1E90FF"]}},
  "order": {"field": "s", "sort": "descending"}}},
{"width": 750, "height": 99, "transform": [{"filter": "datum.k == 7"}], "mark": {"type": "bar"},
 "encoding": {
  "x": {"field": "i", "type": "ordinal", "axis": null, "scale": {"paddingInner": 0.1, "paddingOuter": 0}},
  "y": {"field": "q", "type": "quantitative", "stack": "normalize", "scale": {"domain": [0, 1], "nice": false}, "axis": {"title": "K=7", "titleAngle": 0, "titleX": -50, "titleY": 55, "titleAlign": "left", "titleBaseline": "middle", "titleFont": "Liberation Sans", "titleFontSize": 18, "titleFontWeight": "normal", "titleColor": "black", "domain": false, "ticks": false, "labels": false, "grid": false}},
  "color": {"field": "c", "type": "nominal", "legend": null, "scale": {"domain": ["b","r","y","g","p","o","d"], "range": ["#0000FF","#FF0000","#FFFF00","#00FF00","#A020F0","#FFA500","#1E90FF"]}},
  "order": {"field": "s", "sort": "descending"}}},
{"width": 750, "height": 28,
 "data": {"values": [{"g":"CAc","pos":4.4},{"g":"CAm","pos":17.2},{"g":"WY","pos":27.4},{"g":"CO","pos":33.95},{"g":"CANc","pos":39.5},{"g":"CANw","pos":44.95},{"g":"MN","pos":52.3}]},
 "mark": {"type": "text", "font": "Liberation Sans", "fontSize": 18, "baseline": "middle", "dy": 3, "color": "black"},
 "encoding": {
  "x": {"field": "pos", "type": "quantitative", "scale": {"domain": [0, 55], "nice": false, "zero": false}, "axis": null},
  "text": {"field": "g"}}}
]
}
